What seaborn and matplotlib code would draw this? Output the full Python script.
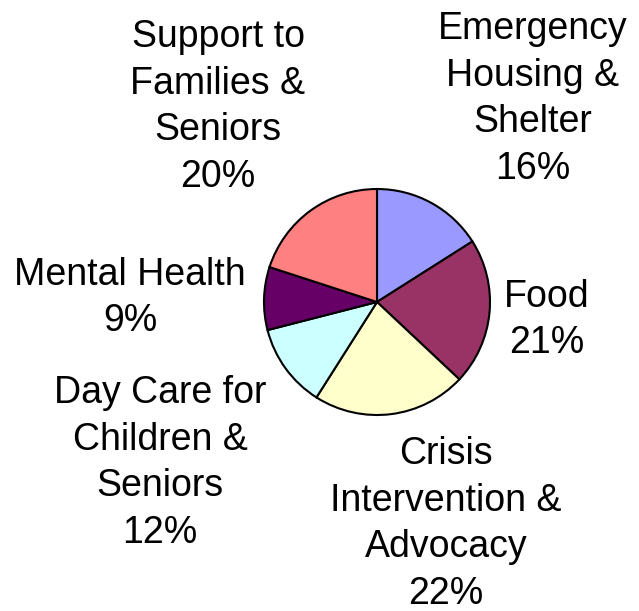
import matplotlib
matplotlib.use("Agg")
import matplotlib.pyplot as plt
import seaborn as sns

# data
categories = [
    "Emergency\nHousing &\nShelter",
    "Food",
    "Crisis\nIntervention &\nAdvocacy",
    "Day Care for\nChildren &\nSeniors",
    "Mental Health",
    "Support to\nFamilies &\nSeniors",
]
shares = [16, 21, 22, 12, 9, 20]
colors = ["#9999FF", "#993366", "#FFFFCC", "#CCFFFF", "#660066", "#FF8080"]

# label anchor points (pixel coords, y from top)
label_pos = [(533, 99), (547, 320), (446, 524), (160, 463), (130, 298), (218, 107)]

sns.set_theme(style="white")
plt.rcParams["font.family"] = ["Liberation Sans", "DejaVu Sans"]

W, H = 639, 611
fig = plt.figure(figsize=(W / 100, H / 100), dpi=100)
ax = fig.add_axes([0, 0, 1, 1])

ax.pie(
    shares,
    colors=colors,
    startangle=90,
    counterclock=False,
    center=(377, H - 302),
    radius=113,
    wedgeprops={"edgecolor": "black", "linewidth": 1.5},
    frame=True,
)
ax.set_xlim(0, W)
ax.set_ylim(0, H)
ax.set_aspect("equal")
ax.axis("off")

for name, val, (x, y) in zip(categories, shares, label_pos):
    ax.text(x, H - y, f"{name}\n{val}%", ha="center", va="center",
            multialignment="center", fontsize=27, color="black",
            linespacing=1.38)

fig.savefig("out.png", dpi=100, facecolor="white")
